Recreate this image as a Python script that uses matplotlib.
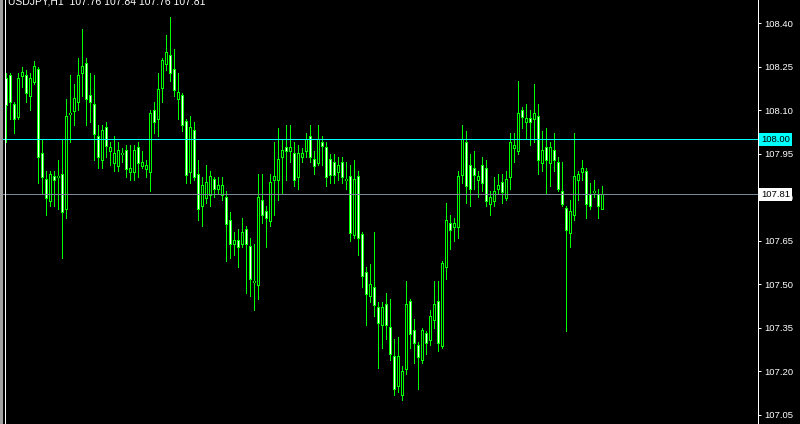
import matplotlib
matplotlib.use('Agg')
import matplotlib.pyplot as plt
import numpy as np
from matplotlib.lines import Line2D
from matplotlib.patches import Rectangle

# USDJPY H1 bars
symbol = 'USDJPY,H1'

opens = [
    108.21, 108.22, 108.12, 108.08, 108.22, 108.22, 108.15, 108.20, 108.24, 107.95,
    107.86, 107.79, 107.87, 107.87, 107.88, 107.76, 108.09, 108.10, 108.13, 108.23,
    108.26, 108.15, 108.12, 108.01, 107.93, 108.04, 107.96, 107.92, 107.91, 107.95,
    107.96, 107.89, 107.89, 107.97, 107.91, 107.90, 107.89, 108.10, 108.07, 108.18,
    108.26, 108.29, 108.24, 108.14, 108.15, 108.06, 107.89, 108.03, 107.88, 107.77,
    107.80, 107.81, 107.86, 107.83, 107.81, 107.80, 107.72, 107.64, 107.65, 107.64,
    107.69, 107.63, 107.51, 107.50, 107.79, 107.75, 107.72, 107.86, 107.86, 107.94,
    107.97, 107.96, 107.95, 107.87, 107.94, 107.96, 108.01, 107.93, 107.92, 107.99,
    107.97, 107.93, 107.92, 107.89, 107.92, 107.86, 107.87, 107.67, 107.87, 107.67,
    107.54, 107.46, 107.49, 107.42, 107.36, 107.43, 107.35, 107.25, 107.15, 107.12,
    107.21, 107.44, 107.34, 107.29, 107.24, 107.33, 107.31, 107.38, 107.44, 107.29,
    107.56, 107.71, 107.70, 107.70, 107.88, 107.99, 107.91, 107.90, 107.86, 107.91,
    107.90, 107.78, 107.79, 107.83, 107.85, 107.80, 107.87, 107.97, 107.96, 108.10,
    108.06, 108.07, 108.07, 108.08, 107.92, 107.97, 107.92, 107.96, 107.92, 107.82,
    107.76, 107.68, 107.74, 107.86, 107.89, 107.89, 107.81, 107.82, 107.81, 107.76,
]
highs = [
    108.23, 108.23, 108.13, 108.23, 108.25, 108.24, 108.23, 108.27, 108.25, 108.00,
    107.89, 107.89, 107.89, 107.93, 108.00, 108.14, 108.22, 108.19, 108.28, 108.38,
    108.28, 108.23, 108.22, 108.05, 108.05, 108.06, 107.99, 108.01, 107.99, 107.97,
    107.98, 107.98, 107.98, 107.99, 107.96, 107.93, 108.10, 108.13, 108.23, 108.28,
    108.36, 108.42, 108.31, 108.23, 108.16, 108.07, 108.08, 108.06, 107.93, 107.87,
    107.91, 107.89, 107.87, 107.87, 107.87, 107.82, 107.75, 107.68, 107.69, 107.73,
    107.70, 107.66, 107.64, 107.88, 107.88, 107.77, 107.88, 107.99, 108.04, 108.00,
    108.05, 108.05, 107.99, 107.98, 107.97, 108.02, 108.05, 107.96, 108.05, 108.01,
    107.99, 107.95, 107.95, 107.94, 107.94, 107.92, 107.91, 107.93, 107.89, 107.68,
    107.56, 107.57, 107.68, 107.44, 107.44, 107.47, 107.45, 107.31, 107.32, 107.22,
    107.51, 107.45, 107.38, 107.30, 107.35, 107.34, 107.41, 107.51, 107.51, 107.58,
    107.78, 107.74, 107.73, 107.89, 108.05, 108.03, 107.95, 107.96, 107.89, 107.94,
    107.93, 107.82, 107.87, 107.88, 107.88, 107.89, 108.02, 108.02, 108.20, 108.11,
    108.12, 108.10, 108.19, 108.12, 108.03, 108.04, 107.99, 108.02, 107.94, 107.92,
    107.77, 107.79, 108.02, 107.89, 107.93, 107.90, 107.85, 107.86, 107.83, 107.84,
]
lows = [
    107.99, 108.07, 108.02, 108.07, 108.18, 108.13, 108.10, 108.19, 107.85, 107.81,
    107.74, 107.77, 107.77, 107.76, 107.59, 107.73, 107.99, 108.05, 108.10, 108.15,
    108.05, 108.06, 107.93, 107.90, 107.90, 107.94, 107.91, 107.89, 107.89, 107.92,
    107.87, 107.86, 107.86, 107.87, 107.90, 107.87, 107.82, 108.02, 108.01, 108.13,
    108.24, 108.20, 108.15, 108.07, 108.03, 107.85, 107.85, 107.86, 107.72, 107.70,
    107.78, 107.77, 107.80, 107.81, 107.79, 107.58, 107.59, 107.60, 107.56, 107.63,
    107.47, 107.46, 107.41, 107.45, 107.71, 107.63, 107.70, 107.74, 107.79, 107.81,
    107.86, 107.92, 107.84, 107.83, 107.92, 107.94, 107.92, 107.88, 107.91, 107.91,
    107.84, 107.85, 107.85, 107.86, 107.85, 107.83, 107.65, 107.66, 107.60, 107.49,
    107.36, 107.44, 107.39, 107.21, 107.28, 107.31, 107.24, 107.12, 107.13, 107.10,
    107.19, 107.28, 107.23, 107.14, 107.23, 107.26, 107.29, 107.35, 107.27, 107.28,
    107.52, 107.62, 107.65, 107.66, 107.85, 107.78, 107.77, 107.83, 107.80, 107.82,
    107.77, 107.74, 107.77, 107.81, 107.78, 107.79, 107.83, 107.92, 107.95, 108.04,
    108.00, 107.98, 107.99, 107.88, 107.89, 107.81, 107.84, 107.89, 107.82, 107.77,
    107.34, 107.63, 107.72, 107.79, 107.86, 107.73, 107.76, 107.80, 107.73, 107.76,
]
closes = [
    108.12, 108.13, 108.07, 108.21, 108.23, 108.16, 108.21, 108.25, 107.94, 107.87,
    107.80, 107.88, 107.86, 107.87, 107.75, 108.08, 108.09, 108.14, 108.22, 108.25,
    108.14, 108.13, 108.02, 107.94, 108.03, 107.98, 107.97, 107.95, 107.96, 107.95,
    107.90, 107.90, 107.96, 107.92, 107.92, 107.91, 108.09, 108.06, 108.17, 108.27,
    108.30, 108.23, 108.17, 108.16, 108.05, 107.88, 108.04, 107.87, 107.76, 107.84,
    107.85, 107.87, 107.83, 107.84, 107.84, 107.71, 107.64, 107.65, 107.63, 107.68,
    107.64, 107.52, 107.51, 107.80, 107.74, 107.73, 107.85, 107.87, 107.93, 107.96,
    107.96, 107.97, 107.86, 107.95, 107.95, 108.00, 107.94, 107.91, 108.00, 107.98,
    107.87, 107.88, 107.88, 107.91, 107.87, 107.86, 107.68, 107.86, 107.66, 107.53,
    107.47, 107.50, 107.43, 107.37, 107.42, 107.36, 107.26, 107.14, 107.25, 107.20,
    107.43, 107.33, 107.30, 107.25, 107.34, 107.30, 107.39, 107.43, 107.30, 107.57,
    107.72, 107.69, 107.71, 107.87, 108.00, 107.84, 107.83, 107.88, 107.87, 107.85,
    107.79, 107.80, 107.82, 107.84, 107.82, 107.86, 107.99, 107.98, 108.09, 108.08,
    108.07, 108.06, 108.09, 107.93, 107.96, 107.93, 107.97, 107.93, 107.83, 107.78,
    107.69, 107.75, 107.87, 107.88, 107.90, 107.78, 107.77, 107.82, 107.77, 107.81,
]

level_line = 108.00
bid = 107.81
price_ticks = [107.05, 107.20, 107.35, 107.50, 107.65, 107.80, 107.95, 108.10, 108.25, 108.40]

LIME = '#00ff00'
FONT = 'Liberation Sans'
PX = 0.72  # one pixel in points at dpi 100

YMIN, YMAX = 107.0183, 108.4803
py = (YMAX - YMIN) / 424  # price per pixel, for the body outline

o = np.array(opens)
c = np.array(closes)
x = np.arange(len(o))
lo = np.minimum(o, c)
hi = np.maximum(o, c)

fig = plt.figure(figsize=(8, 4.24), dpi=100, facecolor='black')
ax = fig.add_axes([0, 0, 758 / 800, 1], facecolor='black')

# wick, 3px lime body, then 1px inner fill (bull = black, bear = white)
ax.vlines(x, lows, highs, color=LIME, lw=PX, zorder=2, antialiased=False,
          capstyle='butt')
ax.vlines(x, lo - 0.5 * py, hi + 0.5 * py, color=LIME, lw=3 * PX, zorder=3,
          antialiased=False, capstyle='butt')
inner = ['white' if cc < oo else 'black' for oo, cc in zip(o, c)]
ax.vlines(x, lo + 0.5 * py, hi - 0.5 * py, colors=inner, lw=PX, zorder=4,
          antialiased=False, capstyle='butt')

ax.axhline(level_line, color='#00ffff', lw=PX, zorder=5, antialiased=False)
ax.axhline(bid, color='#778899', lw=PX, zorder=5, antialiased=False)

# 4 px per bar, bar centres on pixel centres
ax.set_xlim(-1.375, 188.125)
ax.set_ylim(YMIN, YMAX)

for s in ['top', 'bottom', 'left']:
    ax.spines[s].set_visible(False)
ax.spines['right'].set_color('white')
ax.spines['right'].set_linewidth(PX)

ax.set_xticks([])
ax.yaxis.tick_right()
ax.set_yticks(price_ticks)
ax.yaxis.set_major_formatter('{x:.2f}')
ax.tick_params(axis='y', colors='white', direction='out', length=2.5, width=PX,
               pad=2, labelsize=6.8)
for t in ax.get_yticklabels():
    t.set_family(FONT)

# price tags on the scale
ax.annotate(f'{level_line:.2f}', xy=(1, level_line), xycoords=('axes fraction', 'data'),
            xytext=(2.4, 0), textcoords='offset points', ha='left', va='center',
            fontsize=6.8, family=FONT, color='black', annotation_clip=False, zorder=6,
            bbox=dict(boxstyle='square,pad=0.2', fc='#00ffff', ec='none'))
ax.annotate(f'{bid:.2f}', xy=(1, bid), xycoords=('axes fraction', 'data'),
            xytext=(2.4, 0), textcoords='offset points', ha='left', va='center',
            fontsize=6.8, family=FONT, color='black', annotation_clip=False, zorder=6,
            bbox=dict(boxstyle='square,pad=0.2', fc='white', ec='none'))

# window frame on the left and the header line
fig.add_artist(Rectangle((0, 0), 2.7 / 800, 1, transform=fig.transFigure,
                         color='#a0a0a0', lw=0))
fig.add_artist(Line2D([4.5 / 800, 4.5 / 800], [0, 1], transform=fig.transFigure,
                      color='white', lw=PX))
header = f'{symbol}  {opens[-1]:.2f} {highs[-1]:.2f} {lows[-1]:.2f} {closes[-1]:.2f}'
fig.text(8 / 800, 1 - 4 / 424, header, color='white', fontsize=7.5, family=FONT,
         va='baseline', ha='left')

fig.savefig('out.png', dpi=100, facecolor='black')
